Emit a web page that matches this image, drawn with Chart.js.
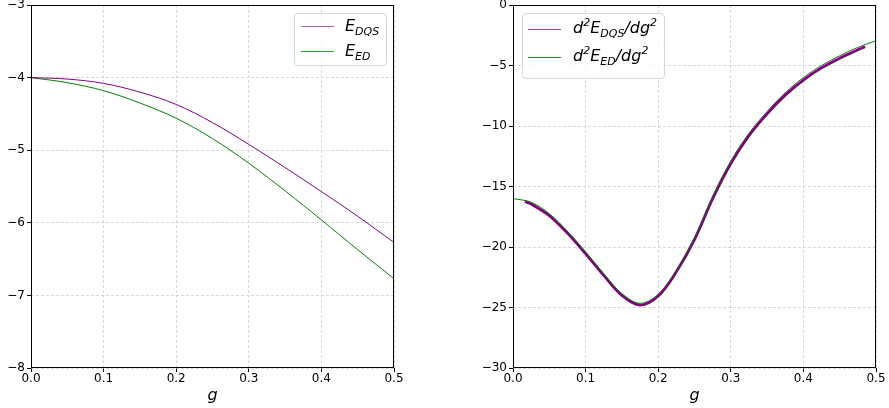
<!DOCTYPE html>
<html>
<head>
<meta charset="utf-8">
<script src="https://cdn.jsdelivr.net/npm/chart.js@4.4.0/dist/chart.umd.min.js"></script>
<style>
  html, body { margin:0; padding:0; background:#fff; }
  body { width:889px; height:408px; position:relative; overflow:hidden; font-family:"DejaVu Sans", sans-serif; }
  canvas { position:absolute; top:0; }
  .legend { position:absolute; border:1px solid #d6d6d6; border-radius:4px; background:rgba(255,255,255,0.8); box-sizing:border-box; font-family:"DejaVu Sans", sans-serif; font-style:italic; font-size:16px; color:#000; }
  .swatch { position:absolute; height:0; width:33px; border-top-width:1px; border-top-style:solid; }
  .lbl { position:absolute; line-height:18px; white-space:nowrap; }
  sub, sup { font-size:11px; line-height:0; }
  sub { vertical-align:-4px; }
  sup { vertical-align:7px; }
</style>
</head>
<body>
<canvas id="c1" width="409" height="408" style="left:0;width:409px;height:408px"></canvas>
<canvas id="c2" width="416" height="408" style="left:473px;width:416px;height:408px"></canvas>

<div class="legend" style="left:294px;top:13px;width:93px;height:53px;">
  <div class="swatch" style="left:6px;top:12px;border-top-color:#b060b0;"></div>
  <div class="lbl" style="left:50px;top:3px;">E<sub>DQS</sub></div>
  <div class="swatch" style="left:6px;top:37px;border-top-color:#30a030;"></div>
  <div class="lbl" style="left:50px;top:28px;">E<sub>ED</sub></div>
</div>
<div class="legend" style="left:522px;top:13px;width:143px;height:66px;">
  <div class="swatch" style="left:5px;top:15px;border-top-color:#a040a0;"></div>
  <div class="lbl" style="left:50px;top:5px;">d<sup>2</sup>E<sub>DQS</sub>/dg<sup>2</sup></div>
  <div class="swatch" style="left:5px;top:43px;border-top-color:#289028;"></div>
  <div class="lbl" style="left:50px;top:33px;">d<sup>2</sup>E<sub>ED</sub>/dg<sup>2</sup></div>
</div>

<script>
// ---- data ----
const gLeft   = [0, 0.05, 0.1, 0.15, 0.2, 0.25, 0.3, 0.35, 0.4, 0.45, 0.5];
const eDQS    = [-4.00, -4.02, -4.08, -4.20, -4.37, -4.62, -4.92, -5.24, -5.57, -5.91, -6.27];
const eED     = [-4.00, -4.07, -4.18, -4.35, -4.56, -4.84, -5.18, -5.56, -5.96, -6.37, -6.77];

const gRightED  = [0, 0.025, 0.05, 0.075, 0.1, 0.125, 0.15, 0.175, 0.2, 0.225, 0.25, 0.275, 0.3, 0.325, 0.35, 0.375, 0.4, 0.425, 0.45, 0.475, 0.5];
const d2ED      = [-16.0, -16.3, -17.25, -18.7, -20.4, -22.2, -23.85, -24.65, -23.9, -21.9, -19.2, -15.8, -12.9, -10.6, -8.8, -7.25, -6.0, -5.0, -4.2, -3.5, -2.95];
const gRightDQS = [0.0165, 0.025, 0.05, 0.075, 0.1, 0.125, 0.15, 0.175, 0.2, 0.225, 0.25, 0.275, 0.3, 0.325, 0.35, 0.375, 0.4, 0.425, 0.45, 0.475, 0.485];
const d2DQS     = [-16.25, -16.45, -17.4, -18.85, -20.55, -22.35, -24.0, -24.8, -24.05, -22.05, -19.4, -16.0, -13.1, -10.8, -9.0, -7.45, -6.2, -5.2, -4.4, -3.7, -3.45];

const xTicks = [0, 0.1, 0.2, 0.3, 0.4, 0.5];
const yTicksLeft  = [-8, -7, -6, -5, -4, -3];
const yTicksRight = [-30, -25, -20, -15, -10, -5, 0];

// ---- helpers ----
const pts = (xs, ys) => xs.map((x, i) => ({x: x, y: ys[i]}));
const minus = v => (v < 0 ? '\u2212' + Math.abs(v) : String(v));
const tickFont = {family: 'DejaVu Sans', size: 12};
const gridColor = 'rgba(190,190,190,0.6)';

const frame = {
  id: 'frame',
  afterDraw(chart) {
    const a = chart.chartArea, ctx = chart.ctx;
    ctx.save();
    ctx.strokeStyle = '#000';
    ctx.lineWidth = 1;
    ctx.strokeRect(Math.round(a.left) + 0.5, Math.round(a.top) + 0.5,
                   Math.round(a.right - a.left) - 1, Math.round(a.bottom - a.top) - 1);
    ctx.restore();
  }
};

function makeChart(id, datasets, yMin, yMax, yTicks, yWidth, padRight) {
  return new Chart(document.getElementById(id), {
    type: 'scatter',
    data: {datasets: datasets},
    plugins: [frame],
    options: {
      responsive: false,
      animation: false,
      devicePixelRatio: 1,
      layout: {padding: {top: 5, right: padRight, left: 0, bottom: 0}},
      plugins: {legend: {display: false}, tooltip: {enabled: false}},
      elements: {point: {radius: 0}},
      scales: {
        x: {
          type: 'linear', min: 0, max: 0.5,
          afterBuildTicks: s => { s.ticks = xTicks.map(v => ({value: v})); },
          afterFit: s => { s.height = 40; s.paddingLeft = 0; s.paddingRight = 0; },
          ticks: {color: '#000', font: tickFont, padding: 0, maxRotation: 0,
                  callback: v => Number(v).toFixed(1)},
          grid: {color: gridColor, lineWidth: 1,
                 tickLength: 4, tickColor: '#000', tickBorderDash: [], drawOnChartArea: true},
          border: {display: false, dash: [3, 2]},
          title: {display: true, text: 'g', color: '#000',
                  font: {family: 'DejaVu Sans', size: 16, style: 'italic'},
                  padding: {top: 0, bottom: 3}}
        },
        y: {
          type: 'linear', min: yMin, max: yMax,
          afterBuildTicks: s => { s.ticks = yTicks.map(v => ({value: v})); },
          afterFit: s => { s.width = yWidth; s.paddingTop = 0; s.paddingBottom = 0; },
          ticks: {color: '#000', font: tickFont, padding: 2, callback: v => minus(v)},
          grid: {color: gridColor, lineWidth: 1,
                 tickLength: 4, tickColor: '#000', tickBorderDash: []},
          border: {display: false, dash: [3, 2]}
        }
      }
    }
  });
}

makeChart('c1', [
  {data: pts(gLeft, eDQS), showLine: true, borderColor: '#800080', borderWidth: 1,
   tension: 0.35, order: 0},
  {data: pts(gLeft, eED), showLine: true, borderColor: '#008000', borderWidth: 1,
   tension: 0.35, order: 1}
], -8, -3, yTicksLeft, 31, 15);

makeChart('c2', [
  {data: pts(gRightED, d2ED), showLine: true, borderColor: '#008000', borderWidth: 1,
   tension: 0.35, order: 0},
  {data: pts(gRightDQS, d2DQS), showLine: true, borderColor: '#800080', borderWidth: 2.8,
   tension: 0.35, order: 1}
], -30, 0, yTicksRight, 40, 13);
</script>
</body>
</html>
